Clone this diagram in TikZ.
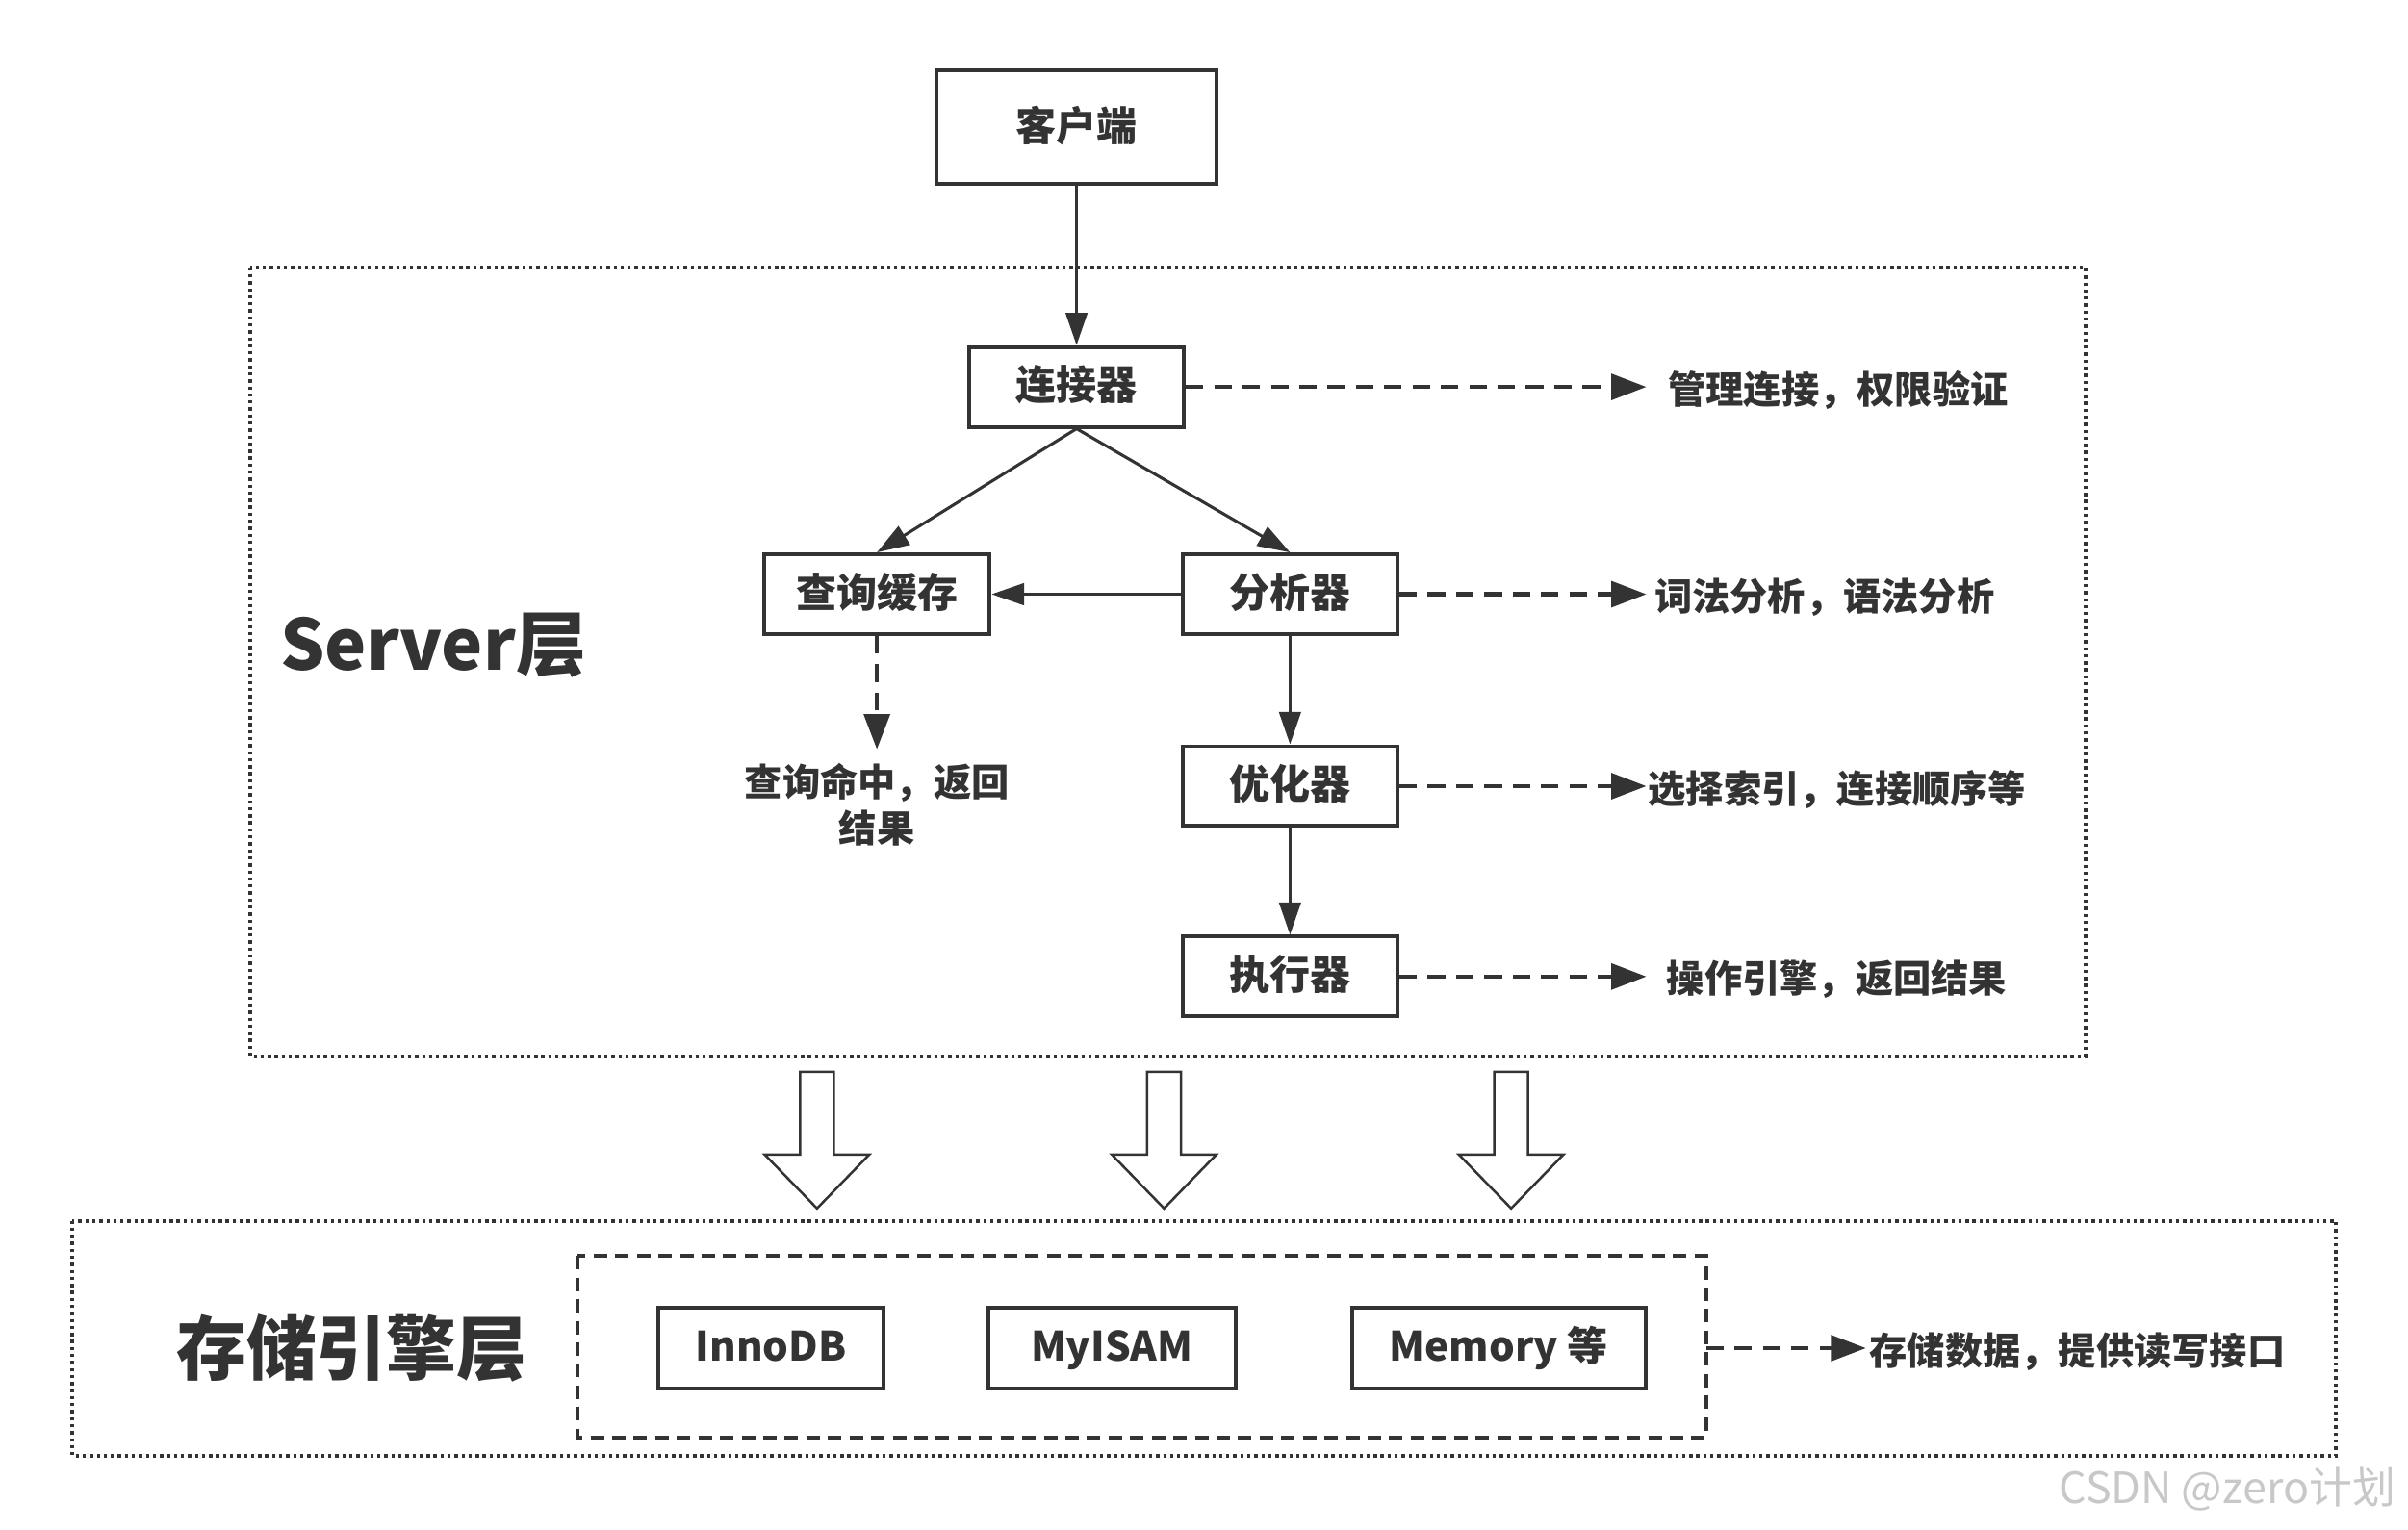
\documentclass[tikz,border=0pt]{standalone}
\usepackage{fontspec}
\setmainfont{Noto Sans CJK SC}
\usepackage{tikz}
\usetikzlibrary{arrows.meta}
\definecolor{ink}{HTML}{333333}
\definecolor{mark}{HTML}{C8C8C8}

\tikzset{
  box/.style={draw=ink, line width=1.4pt, fill=white, minimum height=1.04cm,
    inner sep=0pt, text height=1.1em, text depth=0.11em, text=ink,
    font=\bfseries\fontsize{15}{18}\selectfont},
  note/.style={anchor=west, inner sep=0pt, text=ink, font=\bfseries\fontsize{14}{17}\selectfont},
  flow/.style={draw=ink, line width=1.1pt, -{Triangle[length=12pt,width=8pt]}},
  hint/.style={draw=ink, line width=1.5pt, dash pattern=on 6.5pt off 4pt,
    -{Triangle[length=13pt,width=9.5pt]}},
  layer/.style={draw=ink, line width=1.4pt, dash pattern=on 1.2pt off 1.4pt},
  hollow/.style={draw=ink, line width=0.9pt, fill=white, line join=miter},
  title/.style={text=ink, font=\bfseries\fontsize{26}{30}\selectfont}
}

\begin{document}
\begin{tikzpicture}[x=0.02cm, y=-0.02cm]
\useasboundingbox (0,0) rectangle (1568,996);

% the two layers
\draw [layer] (163,174) rectangle (1358,688);
\draw [layer] (47,795) rectangle (1521,948);
\draw [draw=ink, line width=1.4pt, dash pattern=on 5pt off 3pt] (376,818) rectangle (1111,936);
\node [title] (server) at (282,420) {Server层};
\node [title] (engine) at (229,878) {存储引擎层};

% server boxes
\node [box, minimum width=3.64cm, minimum height=1.48cm] (client) at (701,83) {客户端};
\node [box, minimum width=2.8cm] (conn) at (701,252) {连接器};
\node [box, minimum width=2.94cm] (cache) at (571,387) {查询缓存};
\node [box, minimum width=2.8cm] (parser) at (840,387) {分析器};
\node [box, minimum width=2.8cm] (optim) at (840,512) {优化器};
\node [box, minimum width=2.8cm] (exec) at (840,636) {执行器};

% notes
\coordinate (n1) at (1072,252);
\coordinate (n2) at (1072,387);
\coordinate (n3) at (1072,512);
\coordinate (n4) at (1072,636);
\node [note] (t1) at (1086,254) {管理连接，权限验证};
\node [note] (t2) at (1077,389) {词法分析，语法分析};
\node [note] (t3) at (1073,514) {选择索引，连接顺序等};
\node [note] (t4) at (1085,638) {操作引擎，返回结果};
\coordinate (hit) at (571,488);
\node [text=ink, align=center, inner sep=0pt, font=\bfseries\fontsize{14}{17}\selectfont, anchor=north] (t5) at (571,497) {查询命中，返回\\结果};

\draw [flow] (client) -- (conn);
\draw [flow] (conn.south) -- (cache.north);
\draw [flow] (conn.south) -- (parser.north);
\draw [flow] (parser) -- (cache);
\draw [flow] (parser) -- (optim);
\draw [flow] (optim) -- (exec);
\draw [hint] (cache) -- (hit);
\draw [hint] (conn) -- (n1);
\draw [hint] (parser) -- (n2);
\draw [hint] (optim) -- (n3);
\draw [hint] (exec) -- (n4);

% block arrows
\foreach \c in {532,758,984}
  \draw [hollow] (\c-11,698) -- (\c+11,698) -- (\c+11,752) -- (\c+34,752)
    -- (\c,787) -- (\c-34,752) -- (\c-11,752) -- cycle;

% engines
\node [box, minimum width=2.94cm, minimum height=1.06cm] (innodb) at (502,878) {InnoDB};
\node [box, minimum width=3.22cm, minimum height=1.06cm] (myisam) at (724,878) {MyISAM};
\node [box, minimum width=3.82cm, minimum height=1.06cm] (memory) at (976,878) {Memory 等};
\coordinate (enginebox) at (1111,878);
\coordinate (n6) at (1215,878);
\node [note] (t6) at (1217,880) {存储数据，提供读写接口};
\draw [hint] (enginebox) -- (n6);

\node [anchor=east, text=mark, font=\fontsize{16}{19}\selectfont] (wm) at (1566,970) {CSDN @zero计划};
\end{tikzpicture}
\end{document}
